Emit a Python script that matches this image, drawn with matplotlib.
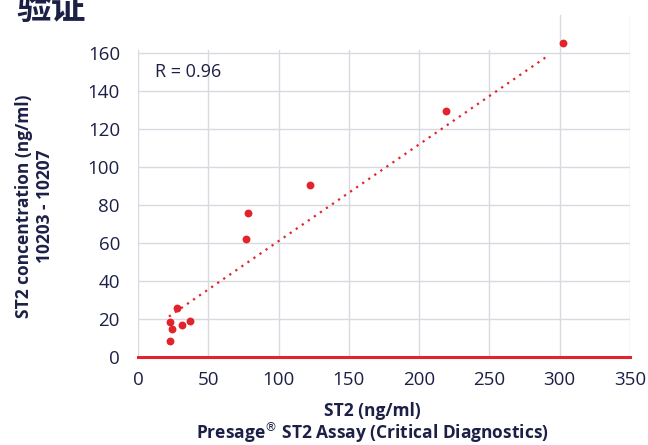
import numpy as np
import matplotlib.pyplot as plt
from matplotlib.patches import Rectangle

# -------------------------------
# Data
# -------------------------------
presage_st2 = [302.0, 219.0, 122.3, 78.2, 76.8, 27.5, 22.8, 24.4, 31.1, 37.0, 22.8]
kit_st2 = [165.5, 129.5, 90.6, 76.0, 62.3, 25.7, 18.5, 14.5, 17.1, 19.2, 8.2]

# linear trendline as drawn in the reference
trend_slope = 0.509
trend_intercept = 10.1
trend_range = [22.0, 290.0]

r_value = 0.96
x_ticks = [0, 50, 100, 150, 200, 250, 300, 350]
y_ticks = [0, 20, 40, 60, 80, 100, 120, 140, 160]

RED = '#E3232B'
NAVY = '#1C2046'
GRID = '#D9D9E1'

plt.rcParams['font.family'] = ['Open Sans', 'DejaVu Sans']

fig = plt.figure(figsize=(6.48, 4.45), dpi=100)
ax = fig.add_axes([138 / 648, 1 - 357 / 445, 492 / 648, 342 / 445])

ax.scatter(presage_st2, kit_st2, s=32, color=RED, zorder=3, linewidths=0)

tx = np.array(trend_range)
ax.plot(tx, trend_slope * tx + trend_intercept, color=RED, linewidth=1.6,
        linestyle=(0, (1, 2.3)), zorder=2)

ax.set_xlim(0, 350)
ax.set_ylim(0, 180)
ax.set_xticks(x_ticks)
ax.set_yticks(y_ticks)

# vertical grid lines run the full height, horizontal ones only at the ticks
for xv in x_ticks:
    ax.axvline(xv, color=GRID, linewidth=1.0, zorder=0)
for yv in y_ticks[1:]:
    ax.axhline(yv, color=GRID, linewidth=1.0, zorder=0)

for side in ['left', 'right', 'top']:
    ax.spines[side].set_visible(False)
ax.spines['bottom'].set_color(RED)
ax.spines['bottom'].set_linewidth(2.2)
ax.spines['bottom'].set_zorder(4)

ax.tick_params(axis='both', length=0, labelsize=13.5, labelcolor=NAVY)
ax.tick_params(axis='y', pad=13)
ax.tick_params(axis='x', pad=10)

ax.text(12, 149.8, f"R = {r_value:.2f}", fontsize=13, color=NAVY,
        ha='left', va='center')

# white box that hides the top of the chart, as in the slide
fig.patches.append(Rectangle((136 / 648, 1 - 50 / 445), 419 / 648, 50 / 445,
                             transform=fig.transFigure, facecolor='white',
                             edgecolor='none', zorder=5))

fig.text(16 / 648, 1 - 26 / 445, "验证", fontsize=25, fontweight='heavy',
         color=NAVY, family=['Noto Sans CJK SC', 'DejaVu Sans'],
         ha='left', va='bottom', zorder=6)

fig.text(34.5 / 648, 1 - 206 / 445, "ST2 concentration (ng/ml)\n10203 - 10207",
         rotation=90, fontsize=12.5, fontweight='bold', color=NAVY,
         ha='center', va='center', multialignment='center', linespacing=1.15)

fig.text(372 / 648, 1 - 439 / 445,
         "ST2 (ng/ml)\nPresage$^{\u00ae}$ ST2 Assay (Critical Diagnostics)",
         fontsize=12.5, fontweight='bold', color=NAVY, ha='center',
         va='baseline', multialignment='center', linespacing=1.0)

fig.savefig('out.png', dpi=100)
